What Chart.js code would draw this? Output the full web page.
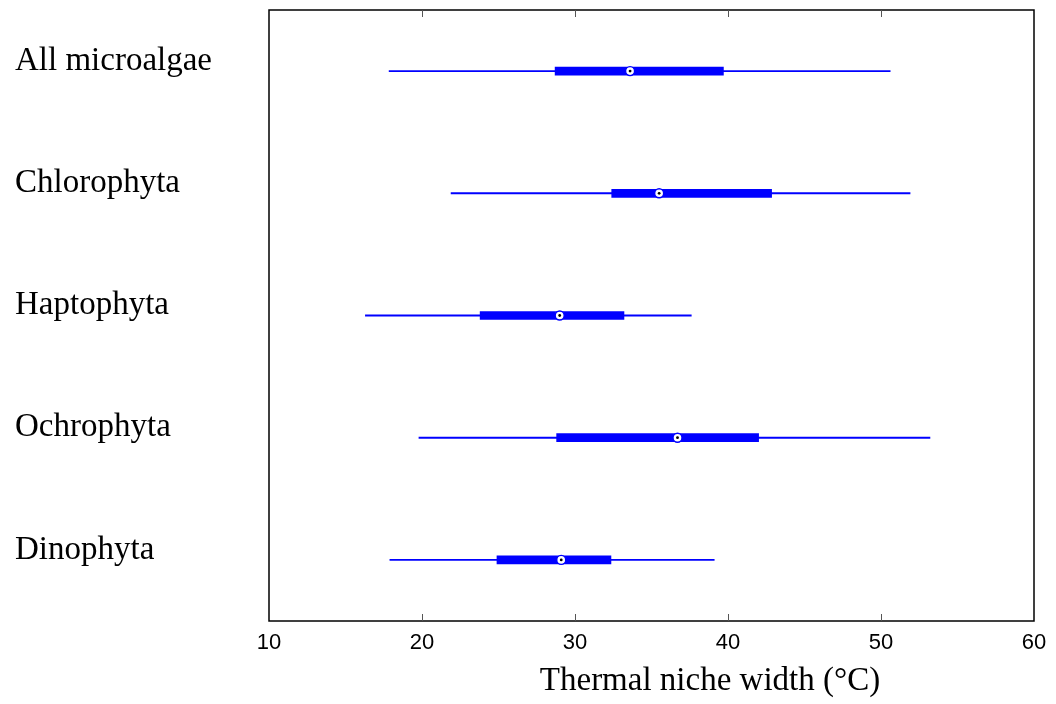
<!DOCTYPE html>
<html>
<head>
<meta charset="utf-8">
<script src="https://cdn.jsdelivr.net/npm/chart.js@4"></script>
<style>
  html, body { margin: 0; padding: 0; background: #ffffff; }
  #wrap { width: 1056px; height: 704px; }
</style>
</head>
<body>
<div id="wrap"><canvas id="c" width="1056" height="704"></canvas></div>
<script>
const categories = ['All microalgae', 'Chlorophyta', 'Haptophyta', 'Ochrophyta', 'Dinophyta'];
const rangeMin = [17.85, 21.9, 16.3, 19.8, 17.9];
const rangeMax = [50.6, 51.9, 37.6, 53.2, 39.1];
const iqrLow = [28.7, 32.4, 23.8, 28.8, 24.9];
const iqrHigh = [39.7, 42.85, 33.2, 42.0, 32.35];
const medians = [33.6, 35.5, 29.0, 36.7, 29.1];
const xTicks = [10, 20, 30, 40, 50, 60];
const xTitle = 'Thermal niche width (°C)';

const BLUE = '#0000ff';

const framePlugin = {
  id: 'frame',
  afterDraw(chart) {
    const ctx = chart.ctx;
    const a = chart.chartArea;
    const xs = chart.scales.x;
    ctx.save();
    ctx.strokeStyle = '#000000';
    ctx.lineWidth = 1.5;
    ctx.strokeRect(a.left, a.top, a.right - a.left, a.bottom - a.top);
    ctx.lineWidth = 1;
    ctx.strokeStyle = '#555555';
    xTicks.forEach(v => {
      if (v === xs.min || v === xs.max) return;
      const px = Math.round(xs.getPixelForValue(v)) + 0.5;
      ctx.beginPath();
      ctx.moveTo(px, a.bottom);
      ctx.lineTo(px, a.bottom - 7);
      ctx.moveTo(px, a.top);
      ctx.lineTo(px, a.top + 7);
      ctx.stroke();
    });
    ctx.fillStyle = '#000000';
    ctx.font = '33px "Liberation Serif", "Times New Roman", serif';
    ctx.textAlign = 'center';
    ctx.textBaseline = 'alphabetic';
    ctx.fillText(xTitle, 710, 690);
    ctx.restore();
  }
};

const ctx = document.getElementById('c').getContext('2d');
new Chart(ctx, {
  type: 'bar',
  data: {
    labels: categories,
    datasets: [
      {
        type: 'scatter',
        label: 'median dot',
        data: categories.map((c, i) => ({ x: medians[i], y: c })),
        pointStyle: 'circle',
        pointRadius: 1.4,
        pointBackgroundColor: '#000000',
        pointBorderWidth: 0,
        order: 0
      },
      {
        type: 'scatter',
        label: 'median',
        data: categories.map((c, i) => ({ x: medians[i], y: c })),
        pointStyle: 'circle',
        pointRadius: 4.5,
        pointBackgroundColor: '#ffffff',
        pointBorderColor: BLUE,
        pointBorderWidth: 1.4,
        order: 1
      },
      {
        label: 'interquartile',
        data: categories.map((c, i) => [iqrLow[i], iqrHigh[i]]),
        backgroundColor: BLUE,
        borderWidth: 0,
        barThickness: 8,
        grouped: false,
        order: 2
      },
      {
        label: 'range',
        data: categories.map((c, i) => [rangeMin[i], rangeMax[i]]),
        backgroundColor: BLUE,
        borderWidth: 0,
        barThickness: 1.2,
        grouped: false,
        order: 3
      }
    ]
  },
  options: {
    indexAxis: 'y',
    responsive: false,
    devicePixelRatio: 1,
    animation: false,
    events: [],
    layout: { padding: { left: 15, top: 10, right: 22, bottom: 0 } },
    plugins: {
      legend: { display: false },
      tooltip: { enabled: false },
      title: { display: false }
    },
    scales: {
      x: {
        type: 'linear',
        position: 'bottom',
        min: 10,
        max: 60,
        grid: { display: false, drawTicks: false },
        border: { display: false },
        afterFit(scale) { scale.height = 83; scale.paddingLeft = 0; scale.paddingRight = 0; },
        afterBuildTicks(scale) { scale.ticks = xTicks.map(v => ({ value: v })); },
        ticks: {
          color: '#000000',
          padding: 9,
          maxRotation: 0,
          font: { family: '"Liberation Sans", Arial, sans-serif', size: 22 }
        }
      },
      y: {
        type: 'category',
        position: 'left',
        offset: true,
        grid: { display: false, drawTicks: false },
        border: { display: false },
        afterFit(scale) { scale.width = 254; scale.paddingTop = 0; scale.paddingBottom = 0; },
        ticks: {
          color: '#000000',
          crossAlign: 'far',
          labelOffset: -10,
          padding: 0,
          font: { family: '"Liberation Serif", "Times New Roman", serif', size: 33 }
        }
      }
    }
  },
  plugins: [framePlugin]
});
</script>
</body>
</html>
